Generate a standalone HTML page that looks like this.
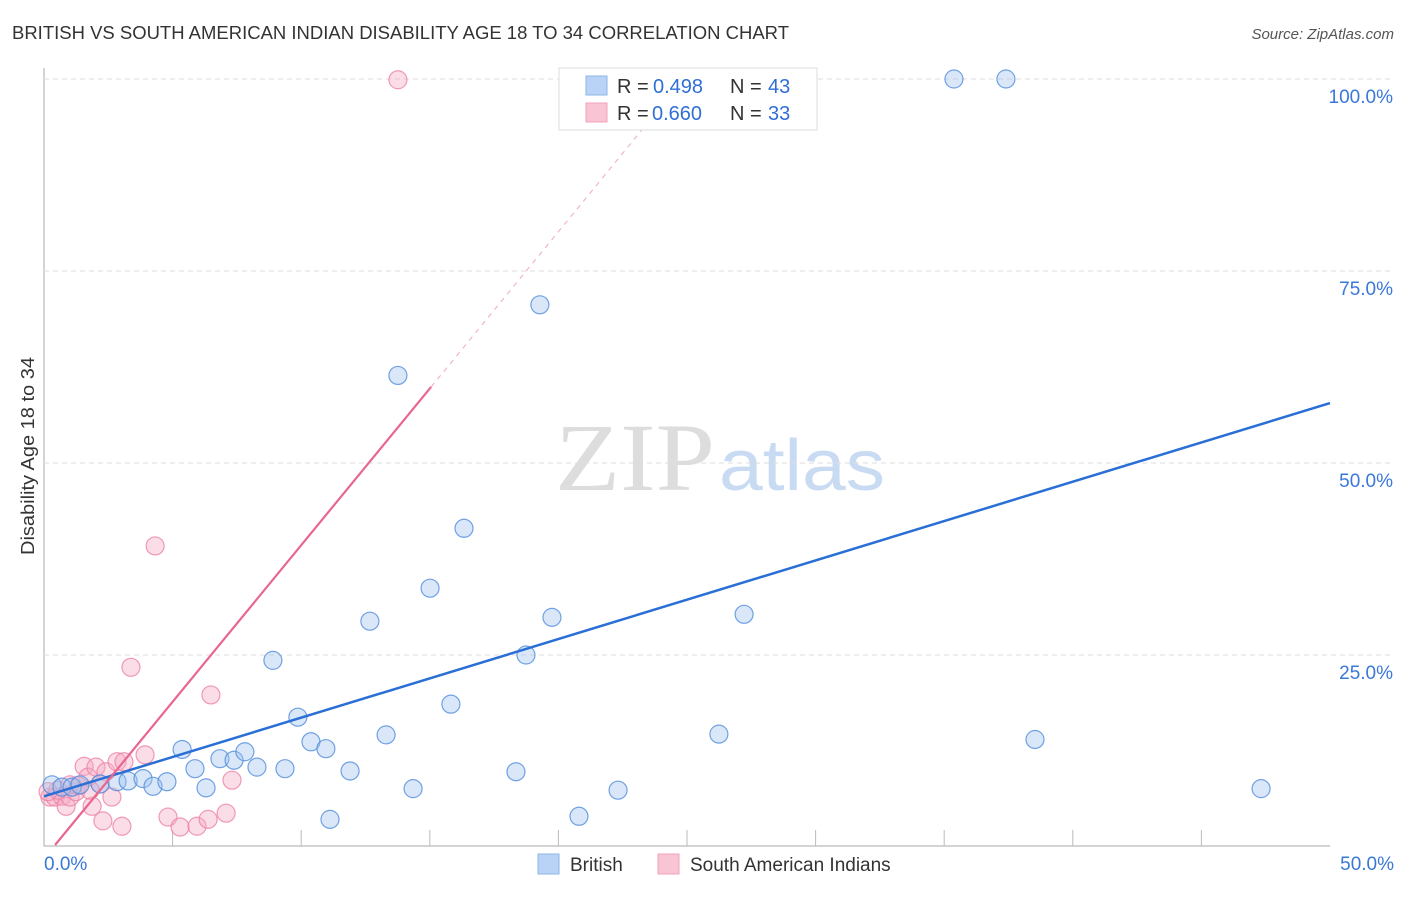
<!DOCTYPE html>
<html><head><meta charset="utf-8"><style>
body{margin:0;background:#fff;font-family:"Liberation Sans",sans-serif;}
</style></head><body>
<svg id="chart" width="1406" height="892" font-family="Liberation Sans, sans-serif">
<text x="12" y="39" font-size="18" fill="#333" textLength="777" lengthAdjust="spacingAndGlyphs">BRITISH VS SOUTH AMERICAN INDIAN DISABILITY AGE 18 TO 34 CORRELATION CHART</text>
<text x="1394" y="39" font-size="15" fill="#555" font-style="italic" text-anchor="end">Source: ZipAtlas.com</text>
<text x="34" y="456" font-size="18" fill="#333" text-anchor="middle" textLength="198" lengthAdjust="spacingAndGlyphs" transform="rotate(-90 34 456)">Disability Age 18 to 34</text>
<text x="635" y="490" font-size="96" fill="#ddd" style="font-family:'Liberation Serif',serif" text-anchor="middle" textLength="160" lengthAdjust="spacingAndGlyphs">ZIP</text>
<text x="802" y="490" font-size="72" fill="#c9dbf2" text-anchor="middle" textLength="166" lengthAdjust="spacingAndGlyphs">atlas</text>
<g id="grid"></g><g id="marks"></g>
<g>
<rect x="559" y="68" width="258" height="62" fill="#fff" stroke="#ddd"/>
<rect x="586" y="76" width="21" height="19" fill="#b8d3f5" stroke="#8fb6e8"/>
<rect x="586" y="103" width="21" height="19" fill="#f9c5d4" stroke="#f0a3b9"/>
<text x="617" y="93" font-size="20" fill="#333">R =</text>
<text x="653" y="93" font-size="20" fill="#2f6fd6">0.498</text>
<text x="730" y="93" font-size="20" fill="#333">N =</text>
<text x="768" y="93" font-size="20" fill="#2f6fd6">43</text>
<text x="617" y="120" font-size="20" fill="#333">R =</text>
<text x="652" y="120" font-size="20" fill="#2f6fd6">0.660</text>
<text x="730" y="120" font-size="20" fill="#333">N =</text>
<text x="768" y="120" font-size="20" fill="#2f6fd6">33</text>
</g>
<g>
<rect x="538" y="854" width="21" height="20" fill="#b8d3f5" stroke="#8fb6e8"/>
<text x="570" y="871" font-size="19" fill="#333">British</text>
<rect x="658" y="854" width="21" height="20" fill="#f9c5d4" stroke="#f0a3b9"/>
<text x="690" y="871" font-size="19" fill="#333">South American Indians</text>
</g>
</svg>
<script>
const xTicks=[0,5,10,15,20,25,30,35,40,45,50];
const yTicks=[25,50,75,100];
const britishX=[0.31,0.70,1.09,1.40,2.18,2.84,3.27,3.85,4.24,4.78,5.37,5.87,6.30,6.84,7.39,7.81,8.28,8.90,9.37,9.87,10.38,10.96,11.12,11.90,12.67,13.30,13.76,14.35,15.01,15.82,16.33,18.35,18.74,19.28,19.75,20.80,22.32,26.24,27.22,35.38,37.40,38.53,47.32];
const britishY=[8.1,7.8,7.8,8.1,8.2,8.5,8.6,8.9,7.9,8.5,12.7,10.2,7.7,11.5,11.3,12.4,10.4,24.3,10.2,16.9,13.7,12.8,3.6,9.9,29.4,14.6,61.4,7.6,33.7,18.6,41.5,9.8,25.0,70.6,29.9,4.0,7.4,14.7,30.3,100,100,14.0,7.6];
const sainX=[0.23,0.43,0.70,0.86,1.01,1.24,1.56,1.71,1.87,2.02,2.29,2.41,2.64,2.84,3.03,3.11,3.38,3.93,4.32,4.82,5.29,5.95,6.38,6.49,7.08,7.31,13.76,1.32,2.18,0.54,0.16,1.79,1.01];
const sainY=[6.5,6.5,6.6,5.3,6.5,7.2,10.5,9.1,5.3,10.4,3.4,9.8,6.5,11.1,2.7,11.1,23.4,12.0,39.2,3.9,2.6,2.7,3.6,19.8,4.4,8.7,99.9,8.0,8.2,7.4,7.2,7.4,8.1];
const blueLine=[[0,6.6],[50,57.8]];
const pinkSolid=[[0.43,0.26],[15.05,59.9]];
const pinkDash=[[15.05,59.9],[23.4,94]];
const X=v=>44+v/50*1286, Y=v=>847-v/100*768;
const NS="http://www.w3.org/2000/svg";
const grid=document.getElementById('grid'), marks=document.getElementById('marks');
function mk(tag,attrs,parent){const e=document.createElementNS(NS,tag);for(const k in attrs)e.setAttribute(k,attrs[k]);parent.appendChild(e);return e;}
let ax=mk('line',{x1:44,y1:68,x2:44,y2:846,stroke:'#aaa'},grid);


let bx=mk('line',{x1:44,y1:846,x2:1330,y2:846,stroke:'#aaa'},grid);


yTicks.forEach(t=>{
 let g=mk('line',{x1:44,y1:Y(t),x2:1394,y2:Y(t),stroke:'#ddd','stroke-dasharray':'5,4'},grid);
 
 
 let l=mk('text',{x:1393,y:Y(t)+24,'font-size':19,fill:'#3a78d8','text-anchor':'end'},grid);l.textContent=t.toFixed(1)+'%';
 
 
});
xTicks.forEach(t=>{
 if(t>0&&t<50){let k=mk('line',{x1:X(t),y1:846,x2:X(t),y2:830,stroke:'#bbb'},grid);
 
 }
});
[[0,'start',44],[50,'end',1394]].forEach(([t,a,x])=>{
 let l=mk('text',{x:x,y:870,'font-size':19,fill:'#3a78d8','text-anchor':a},grid);l.textContent=t.toFixed(1)+'%';
 
 
});
function pts(xs,ys,fill,stroke,name){xs.forEach((v,i)=>{
 let c=mk('circle',{cx:X(v),cy:Y(ys[i]),r:9,fill:fill,stroke:stroke,'stroke-width':1.2},marks);
 
 
});}
pts(sainX,sainY,'rgba(246,170,195,0.4)','rgba(236,130,165,0.8)','sa-indian-point');
pts(britishX,britishY,'rgba(160,196,240,0.4)','rgba(80,140,220,0.8)','british-point');
function ln(p,col,dash,name,w){let l=mk('line',{x1:X(p[0][0]),y1:Y(p[0][1]),x2:X(p[1][0]),y2:Y(p[1][1]),stroke:col,'stroke-width':w},marks);
 if(dash)l.setAttribute('stroke-dasharray',dash);
 
 }
ln(blueLine,'#2a6fd6',null,'british-trend-line',2.5);
ln(pinkSolid,'#e8678f',null,'sa-indian-trend-line',2.2);
ln(pinkDash,'#f0a8bf','5,5','sa-indian-trend-extension',1);
</script>
</body></html>
